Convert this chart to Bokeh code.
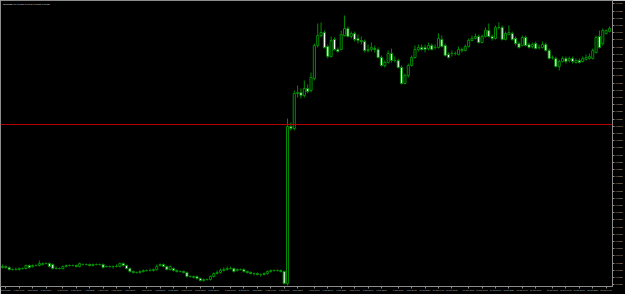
from bokeh.plotting import figure
from bokeh.models import ColumnDataSource, Range1d, FixedTicker, NumeralTickFormatter, Span, Label
from bokeh.embed import file_html
from bokeh.resources import INLINE

symbol_title = "EURUSD,H1  1.09690 1.09740 1.09680 1.09720"

open_ = [
    1.0733, 1.0734, 1.0733, 1.0731, 1.0731, 1.0731, 1.0732, 1.0732, 1.0735, 1.0734,
    1.0735, 1.0735, 1.0736, 1.0737, 1.0737, 1.0736, 1.0732, 1.0732, 1.0732, 1.0734,
    1.0735, 1.0735, 1.0735, 1.0734, 1.0736, 1.0736, 1.0736, 1.0735, 1.0736, 1.0736,
    1.0736, 1.0734, 1.0734, 1.0734, 1.0734, 1.0734, 1.0737, 1.0735, 1.0732, 1.0729,
    1.0728, 1.0728, 1.0729, 1.0730, 1.0730, 1.0730, 1.0731, 1.0735, 1.0736, 1.0734,
    1.0731, 1.0732, 1.0730, 1.0729, 1.0729, 1.0728, 1.0724, 1.0723, 1.0724, 1.0722,
    1.0720, 1.0721, 1.0721, 1.0724, 1.0727, 1.0728, 1.0730, 1.0731, 1.0732, 1.0732,
    1.0730, 1.0731, 1.0731, 1.0729, 1.0728, 1.0727, 1.0727, 1.0726, 1.0726, 1.0727,
    1.0729, 1.0730, 1.0730, 1.0730, 1.0729, 1.0717, 1.0874, 1.0872, 1.0907, 1.0908,
    1.0905, 1.0912, 1.0910, 1.0922, 1.0955, 1.0965, 1.0968, 1.0954, 1.0944, 1.0961,
    1.0951, 1.0951, 1.0965, 1.0972, 1.0964, 1.0967, 1.0962, 1.0960, 1.0959, 1.0950,
    1.0951, 1.0952, 1.0951, 1.0943, 1.0935, 1.0938, 1.0947, 1.0940, 1.0940, 1.0933,
    1.0917, 1.0925, 1.0935, 1.0943, 1.0951, 1.0953, 1.0953, 1.0952, 1.0955, 1.0953,
    1.0953, 1.0961, 1.0955, 1.0946, 1.0947, 1.0947, 1.0946, 1.0951, 1.0950, 1.0954,
    1.0960, 1.0962, 1.0964, 1.0958, 1.0964, 1.0970, 1.0964, 1.0962, 1.0973, 1.0973,
    1.0961, 1.0966, 1.0967, 1.0962, 1.0957, 1.0955, 1.0963, 1.0956, 1.0954, 1.0957,
    1.0953, 1.0953, 1.0956, 1.0950, 1.0943, 1.0942, 1.0934, 1.0939, 1.0942, 1.0940,
    1.0942, 1.0938, 1.0940, 1.0939, 1.0941, 1.0942, 1.0942, 1.0948, 1.0964, 1.0957,
    1.0967, 1.0969,
]
high = [
    1.0736, 1.0735, 1.0734, 1.0732, 1.0733, 1.0733, 1.0733, 1.0736, 1.0736, 1.0736,
    1.0736, 1.0740, 1.0738, 1.0738, 1.0738, 1.0737, 1.0734, 1.0733, 1.0735, 1.0736,
    1.0736, 1.0736, 1.0736, 1.0738, 1.0737, 1.0737, 1.0737, 1.0737, 1.0737, 1.0737,
    1.0737, 1.0735, 1.0735, 1.0735, 1.0736, 1.0738, 1.0738, 1.0736, 1.0733, 1.0730,
    1.0729, 1.0730, 1.0731, 1.0731, 1.0732, 1.0732, 1.0736, 1.0737, 1.0737, 1.0735,
    1.0735, 1.0733, 1.0731, 1.0730, 1.0730, 1.0729, 1.0725, 1.0725, 1.0725, 1.0723,
    1.0722, 1.0722, 1.0725, 1.0728, 1.0730, 1.0732, 1.0733, 1.0734, 1.0734, 1.0733,
    1.0732, 1.0732, 1.0732, 1.0730, 1.0729, 1.0728, 1.0728, 1.0727, 1.0728, 1.0730,
    1.0731, 1.0731, 1.0731, 1.0731, 1.0730, 1.0882, 1.0878, 1.0910, 1.0915, 1.0912,
    1.0920, 1.0916, 1.0928, 1.0957, 1.0977, 1.0978, 1.0970, 1.0956, 1.0964, 1.0963,
    1.0953, 1.0970, 1.0985, 1.0974, 1.0969, 1.0969, 1.0966, 1.0964, 1.0961, 1.0956,
    1.0958, 1.0955, 1.0953, 1.0945, 1.0940, 1.0950, 1.0952, 1.0944, 1.0942, 1.0935,
    1.0927, 1.0937, 1.0945, 1.0955, 1.0956, 1.0956, 1.0956, 1.0958, 1.0957, 1.0956,
    1.0967, 1.0965, 1.0957, 1.0948, 1.0950, 1.0949, 1.0954, 1.0953, 1.0956, 1.0962,
    1.0965, 1.0967, 1.0966, 1.0966, 1.0973, 1.0977, 1.0966, 1.0975, 1.0978, 1.0975,
    1.0969, 1.0975, 1.0969, 1.0964, 1.0959, 1.0965, 1.0965, 1.0958, 1.0958, 1.0959,
    1.0956, 1.0959, 1.0958, 1.0952, 1.0945, 1.0944, 1.0941, 1.0944, 1.0944, 1.0944,
    1.0944, 1.0942, 1.0942, 1.0944, 1.0946, 1.0947, 1.0952, 1.0965, 1.0970, 1.0972,
    1.0971, 1.0974,
]
low = [
    1.0732, 1.0732, 1.0730, 1.0730, 1.0730, 1.0730, 1.0731, 1.0731, 1.0732, 1.0733,
    1.0734, 1.0734, 1.0735, 1.0736, 1.0733, 1.0731, 1.0731, 1.0731, 1.0731, 1.0733,
    1.0734, 1.0734, 1.0733, 1.0733, 1.0735, 1.0735, 1.0734, 1.0734, 1.0735, 1.0735,
    1.0732, 1.0733, 1.0733, 1.0732, 1.0733, 1.0733, 1.0734, 1.0731, 1.0728, 1.0727,
    1.0727, 1.0727, 1.0728, 1.0729, 1.0729, 1.0729, 1.0730, 1.0734, 1.0733, 1.0730,
    1.0730, 1.0729, 1.0728, 1.0728, 1.0727, 1.0723, 1.0723, 1.0722, 1.0721, 1.0719,
    1.0719, 1.0720, 1.0720, 1.0723, 1.0726, 1.0727, 1.0729, 1.0730, 1.0731, 1.0728,
    1.0729, 1.0730, 1.0728, 1.0727, 1.0726, 1.0725, 1.0725, 1.0724, 1.0725, 1.0726,
    1.0728, 1.0729, 1.0729, 1.0728, 1.0716, 1.0715, 1.0870, 1.0870, 1.0903, 1.0902,
    1.0903, 1.0907, 1.0908, 1.0920, 1.0953, 1.0963, 1.0952, 1.0942, 1.0943, 1.0950,
    1.0948, 1.0950, 1.0964, 1.0963, 1.0962, 1.0959, 1.0957, 1.0956, 1.0948, 1.0948,
    1.0949, 1.0948, 1.0942, 1.0934, 1.0933, 1.0937, 1.0938, 1.0938, 1.0932, 1.0916,
    1.0916, 1.0923, 1.0934, 1.0942, 1.0949, 1.0950, 1.0948, 1.0950, 1.0950, 1.0951,
    1.0952, 1.0953, 1.0944, 1.0942, 1.0944, 1.0945, 1.0945, 1.0948, 1.0949, 1.0953,
    1.0959, 1.0961, 1.0957, 1.0957, 1.0963, 1.0963, 1.0960, 1.0961, 1.0971, 1.0960,
    1.0960, 1.0965, 1.0960, 1.0955, 1.0952, 1.0954, 1.0954, 1.0952, 1.0952, 1.0951,
    1.0951, 1.0952, 1.0949, 1.0941, 1.0941, 1.0933, 1.0930, 1.0938, 1.0937, 1.0938,
    1.0937, 1.0937, 1.0937, 1.0938, 1.0940, 1.0941, 1.0941, 1.0947, 1.0952, 1.0955,
    1.0966, 1.0968,
]
close = [
    1.0734, 1.0733, 1.0731, 1.0731, 1.0731, 1.0732, 1.0732, 1.0735, 1.0733, 1.0735,
    1.0735, 1.0737, 1.0737, 1.0737, 1.0734, 1.0732, 1.0732, 1.0732, 1.0734, 1.0735,
    1.0735, 1.0735, 1.0734, 1.0737, 1.0736, 1.0736, 1.0735, 1.0736, 1.0736, 1.0736,
    1.0733, 1.0734, 1.0734, 1.0734, 1.0734, 1.0737, 1.0735, 1.0732, 1.0729, 1.0728,
    1.0728, 1.0729, 1.0730, 1.0730, 1.0730, 1.0731, 1.0734, 1.0736, 1.0734, 1.0731,
    1.0734, 1.0730, 1.0729, 1.0729, 1.0728, 1.0724, 1.0724, 1.0724, 1.0722, 1.0720,
    1.0721, 1.0721, 1.0724, 1.0727, 1.0728, 1.0730, 1.0731, 1.0732, 1.0732, 1.0729,
    1.0731, 1.0731, 1.0729, 1.0728, 1.0727, 1.0727, 1.0726, 1.0726, 1.0727, 1.0729,
    1.0730, 1.0730, 1.0730, 1.0729, 1.0717, 1.0874, 1.0872, 1.0907, 1.0908, 1.0905,
    1.0912, 1.0909, 1.0923, 1.0955, 1.0965, 1.0968, 1.0953, 1.0944, 1.0960, 1.0951,
    1.0949, 1.0966, 1.0972, 1.0964, 1.0967, 1.0961, 1.0960, 1.0959, 1.0950, 1.0951,
    1.0953, 1.0951, 1.0943, 1.0935, 1.0938, 1.0947, 1.0940, 1.0940, 1.0933, 1.0917,
    1.0925, 1.0935, 1.0943, 1.0951, 1.0953, 1.0951, 1.0951, 1.0955, 1.0951, 1.0953,
    1.0962, 1.0954, 1.0945, 1.0943, 1.0947, 1.0947, 1.0951, 1.0950, 1.0954, 1.0960,
    1.0962, 1.0964, 1.0958, 1.0964, 1.0970, 1.0964, 1.0962, 1.0973, 1.0973, 1.0961,
    1.0967, 1.0968, 1.0961, 1.0957, 1.0953, 1.0963, 1.0955, 1.0953, 1.0956, 1.0952,
    1.0953, 1.0956, 1.0950, 1.0942, 1.0943, 1.0934, 1.0939, 1.0942, 1.0939, 1.0942,
    1.0939, 1.0940, 1.0938, 1.0942, 1.0943, 1.0944, 1.0950, 1.0963, 1.0953, 1.0970,
    1.0970, 1.0972,
]

horizontal_line_price = 1.0876
horizontal_line_label = "1.08760"

price_ticks = [
    1.09967, 1.09895, 1.09823, 1.09751, 1.09679, 1.09607, 1.09535, 1.09463,
    1.09391, 1.09319, 1.09247, 1.09175, 1.09103, 1.09031, 1.08959, 1.08887,
    1.08815, 1.08743, 1.08671, 1.08599, 1.08527, 1.08455, 1.08383, 1.08311,
    1.08239, 1.08167, 1.08095, 1.08023, 1.07951, 1.07879, 1.07807, 1.07735,
    1.07663, 1.07591, 1.07519, 1.07447, 1.07375, 1.07303, 1.07231, 1.07159,
]

time_tick_bars = [1, 5, 9, 13, 18, 22, 26, 30, 34, 38, 43, 47, 51, 55, 59, 63, 68, 72,
                  76, 80, 84, 88, 93, 97, 101, 105, 109, 113, 118, 122, 126, 130, 134,
                  139, 143, 147, 151, 155, 159, 164, 168, 172, 176, 180]
time_labels = [
    "3 Jun 2024", "3 Jun 04:00", "3 Jun 08:00", "3 Jun 12:00", "3 Jun 16:00", "3 Jun 20:00",
    "4 Jun 2024", "4 Jun 04:00", "4 Jun 08:00", "4 Jun 12:00", "4 Jun 16:00", "4 Jun 20:00",
    "5 Jun 2024", "5 Jun 04:00", "5 Jun 08:00", "5 Jun 12:00", "5 Jun 16:00", "5 Jun 20:00",
    "6 Jun 2024", "6 Jun 04:00", "6 Jun 08:00", "6 Jun 12:00", "6 Jun 16:00", "6 Jun 20:00",
    "7 Jun 2024", "7 Jun 04:00", "7 Jun 08:00", "7 Jun 12:00", "7 Jun 16:00", "7 Jun 20:00",
    "10 Jun 2024", "10 Jun 04:00", "10 Jun 08:00", "10 Jun 12:00", "10 Jun 16:00", "10 Jun 20:00",
    "11 Jun 2024", "11 Jun 04:00", "11 Jun 08:00", "11 Jun 12:00", "11 Jun 16:00", "11 Jun 20:00",
    "12 Jun 2024", "12 Jun 04:00",
]

GREEN = "#008c00"
RED = "#b40000"
AXIS_GRAY = "#8c8c8c"
TEXT_GRAY = "#c8c8c8"
FONT = "Liberation Sans"

n = len(close)
bars = list(range(n))
source = ColumnDataSource(dict(
    bar=bars,
    open=open_,
    high=high,
    low=low,
    close=close,
    top=[max(o, c) for o, c in zip(open_, close)],
    bottom=[min(o, c) for o, c in zip(open_, close)],
    fill=["#000000" if c >= o else "#ffffff" for o, c in zip(open_, close)],
))

p = figure(width=625, height=294, output_backend="svg", toolbar_location=None,
           x_range=Range1d(-0.59, 181.89), y_range=Range1d(1.0714, 1.1000),
           y_axis_location="right",
           background_fill_color="black", border_fill_color="black",
           min_border_left=0, min_border_right=10, min_border_top=0, min_border_bottom=8)
p.grid.visible = False
p.outline_line_color = AXIS_GRAY
p.outline_line_width = 1

p.segment(x0="bar", y0="high", x1="bar", y1="low", source=source,
          line_color=GREEN, line_width=1)
p.vbar(x="bar", top="top", bottom="bottom", width=0.62, source=source,
       fill_color="fill", line_color=GREEN, line_width=1)

p.add_layout(Span(location=horizontal_line_price, dimension="width",
                  line_color=RED, line_width=1))

# right price axis
ya = p.yaxis[0]
ya.ticker = FixedTicker(ticks=price_ticks)
ya.formatter = NumeralTickFormatter(format="0.00000")
ya.major_label_text_font_size = "2px"
ya.major_label_text_font = FONT
ya.major_label_text_color = TEXT_GRAY
ya.axis_line_color = AXIS_GRAY
ya.major_tick_line_color = AXIS_GRAY
ya.major_tick_out = 2
ya.major_tick_in = 0
ya.minor_tick_line_color = None
ya.major_label_standoff = 1

# bottom time axis
xa = p.xaxis[0]
xa.ticker = FixedTicker(ticks=time_tick_bars)
xa.major_label_overrides = {b: t for b, t in zip(time_tick_bars, time_labels)}
xa.major_label_text_font_size = "2px"
xa.major_label_text_font = FONT
xa.major_label_text_color = TEXT_GRAY
xa.axis_line_color = AXIS_GRAY
xa.major_tick_line_color = AXIS_GRAY
xa.major_tick_out = 2
xa.major_tick_in = 0
xa.minor_tick_line_color = None
xa.major_label_standoff = 1

# symbol caption in the top-left corner
p.add_layout(Label(x=0.2, y=1.0998, text=symbol_title, text_font=FONT,
                   text_font_size="2.2px", text_color="#e0e0e0", text_baseline="top"))

# price tag of the horizontal line on the price scale
p.add_layout(Label(x=181.95, y=horizontal_line_price, text=horizontal_line_label,
                   text_font=FONT, text_font_size="2px", text_color="#ffffff",
                   text_baseline="middle", x_offset=1,
                   background_fill_color=RED))

open("out.html", "w").write(file_html(p, INLINE))
